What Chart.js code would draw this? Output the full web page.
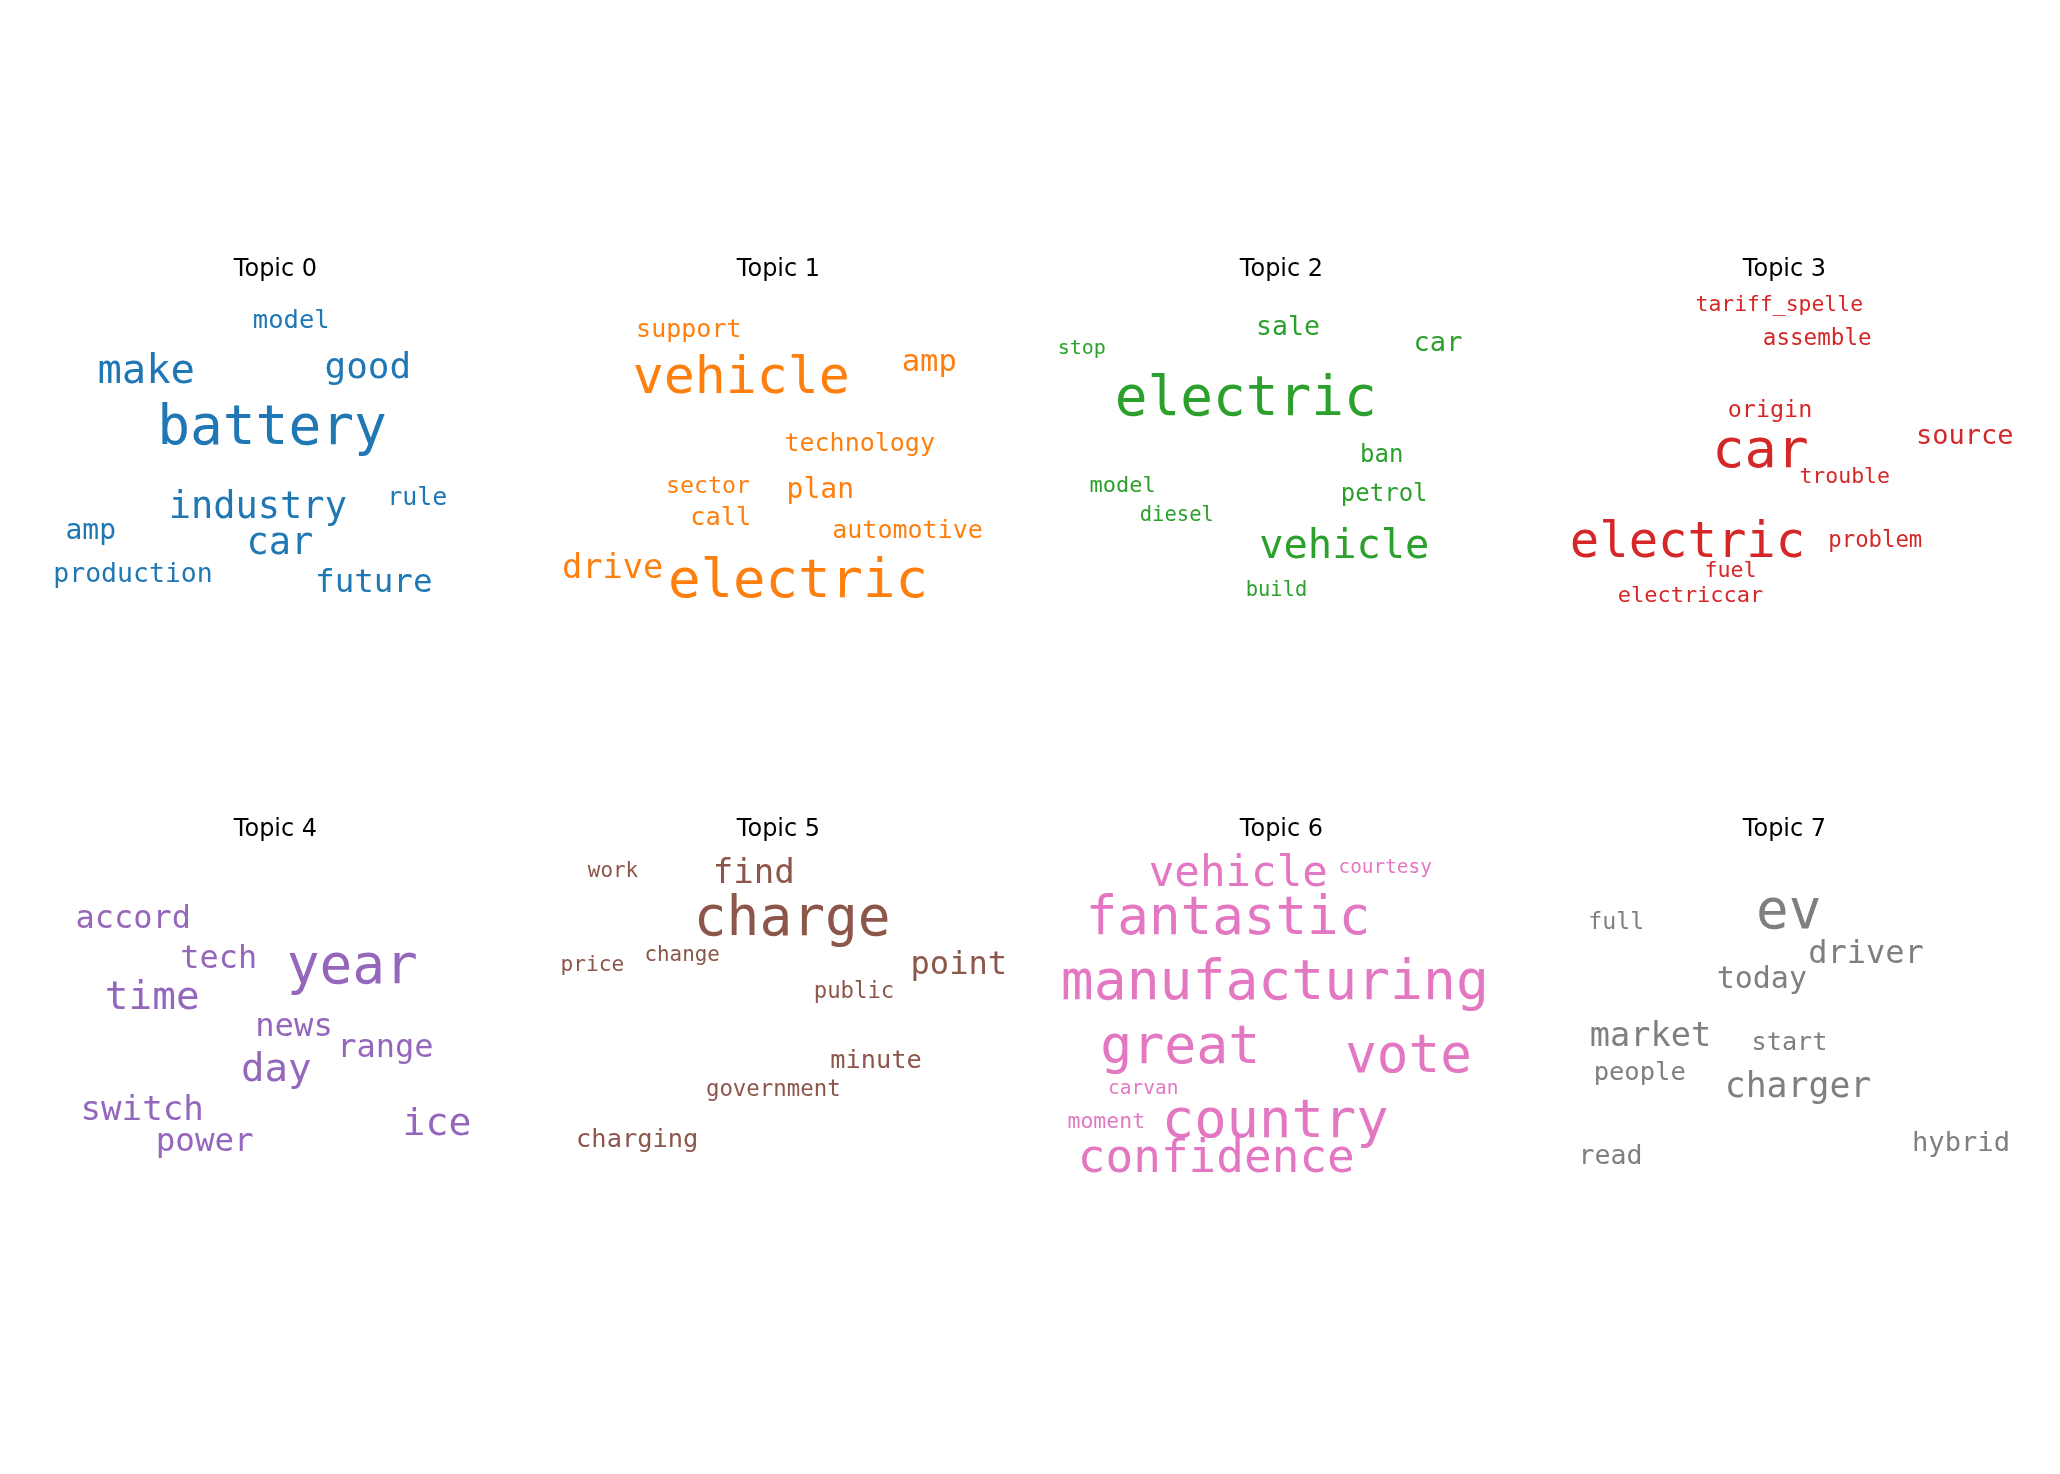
<!DOCTYPE html>
<html>
<head>
<meta charset="utf-8">
<script src="https://cdn.jsdelivr.net/npm/chart.js@4.4.1/dist/chart.umd.min.js"></script>
<style>
    html, body { margin: 0; padding: 0; background: #ffffff; }
    #figure { position: relative; width: 2060px; height: 1474px; background: #ffffff; overflow: hidden; }
    #figure canvas { position: absolute; }
</style>
</head>
<body>
<div id="figure"></div>
<script>
// topic word clouds - word, position inside the cloud, weight (font px)
const topicTitles = ['Topic 0', 'Topic 1', 'Topic 2', 'Topic 3', 'Topic 4', 'Topic 5', 'Topic 6', 'Topic 7'];
const topicColors = ['#1f77b4', '#ff7f0e', '#2ca02c', '#d62728', '#9467bd', '#8c564b', '#e377c2', '#7f7f7f'];

const topic0Words = ['model', 'make', 'good', 'battery', 'industry', 'rule', 'amp', 'car', 'production', 'future'];
const topic0X = [15.7, -129.3, 92.3, -3.5, -17.7, 141.8, -184.7, 4.3, -142.5, 98.3];
const topic0Y = [88.3, 142.7, 138.3, 204, 277.7, 265, 299, 314, 341.7, 351.7];
const topic0Weight = [25.5, 40.5, 36, 54.5, 37, 25, 28, 37, 26.5, 32.5];

const topic1Words = ['support', 'vehicle', 'amp', 'technology', 'sector', 'plan', 'call', 'automotive', 'drive', 'electric'];
const topic1X = [-89.7, -37.2, 150.7, 81.2, -70.5, 41.8, -57.8, 129, -165.8, 19.5];
const topic1Y = [97.3, 152.7, 130.7, 210.7, 253.3, 258.3, 285, 297.7, 337.7, 357.3];
const topic1Weight = [25, 51.5, 30.5, 25, 23.3, 28, 25.3, 25, 33.7, 54];

const topic2Words = ['sale', 'car', 'stop', 'electric', 'ban', 'model', 'petrol', 'diesel', 'vehicle', 'build'];
const topic2X = [6.5, 156.5, -199.7, -35.7, 100.2, -158.8, 102.7, -104.7, 62.8, -5];
const topic2Y = [95, 111, 114.3, 175, 221.7, 252.3, 260.7, 281, 318.3, 356];
const topic2Weight = [26.5, 27, 20, 54.4, 24, 22, 24, 20.5, 40.4, 20.4];

const topic3Words = ['tariff_spelle', 'assemble', 'origin', 'source', 'car', 'trouble', 'electric', 'problem', 'fuel', 'electriccar'];
const topic3X = [-5.2, 32.7, -14.5, 180.2, -24, 60.2, -97, 90.8, -54, -94];
const topic3Y = [70.7, 105, 177.3, 204.3, 226.7, 243.3, 316.7, 307.3, 336.7, 362.3];
const topic3Weight = [21.4, 22.6, 23.4, 27, 53.5, 21.5, 48.9, 22.3, 21.7, 22];

const topic4Words = ['accord', 'tech', 'year', 'time', 'news', 'range', 'day', 'switch', 'power', 'ice'];
const topic4X = [-142.2, -56.8, 76.8, -123.2, 18.5, 109.8, 0.7, -133.3, -70.8, 161.5];
const topic4Y = [128.3, 168.3, 182.7, 209, 235.7, 257.3, 280.7, 320, 350.7, 335];
const topic4Weight = [32, 31.9, 54.5, 39.4, 32.2, 32, 39.1, 34.2, 32.6, 38.1];

const topic5Words = ['work', 'find', 'charge', 'change', 'price', 'point', 'public', 'minute', 'government', 'charging'];
const topic5X = [-165.5, -24.7, 13.7, -96.3, -186.2, 180.3, 75.5, 97.5, -5.2, -141.3];
const topic5Y = [76.7, 83.3, 135, 160.7, 170.7, 174, 198.3, 267.7, 296, 346.7];
const topic5Weight = [20.9, 34.1, 54.5, 20.9, 21.2, 32.1, 22.3, 25.3, 22.4, 25.4];

const topic6Words = ['vehicle', 'courtesy', 'fantastic', 'manufacturing', 'great', 'vote', 'carvan', 'moment', 'country', 'confidence'];
const topic6X = [-43.2, 103.7, -53.5, -6.7, -101.3, 127, -138.2, -175.2, -6.3, -65.2];
const topic6Y = [86, 72.7, 134.3, 199.3, 263.3, 271.7, 294.3, 327.7, 336.7, 371.7];
const topic6Weight = [42.5, 19.4, 52.5, 54.7, 53.2, 52.6, 19.5, 21.5, 53.8, 46];

const topic7Words = ['ev', 'full', 'driver', 'today', 'market', 'start', 'people', 'charger', 'hybrid', 'read'];
const topic7X = [4.3, -168.2, 81.5, -22.7, -134, 5, -144.8, 13.5, 176.5, -174];
const topic7Y = [128.3, 129.3, 163.3, 188.3, 246, 250, 280, 296.7, 350.7, 364];
const topic7Weight = [54.3, 23.3, 32, 30, 33.6, 25.2, 25.5, 34.8, 27.2, 26.6];

const topics = [
    [topic0Words, topic0X, topic0Y, topic0Weight],
    [topic1Words, topic1X, topic1Y, topic1Weight],
    [topic2Words, topic2X, topic2Y, topic2Weight],
    [topic3Words, topic3X, topic3Y, topic3Weight],
    [topic4Words, topic4X, topic4Y, topic4Weight],
    [topic5Words, topic5X, topic5Y, topic5Weight],
    [topic6Words, topic6X, topic6Y, topic6Weight],
    [topic7Words, topic7X, topic7Y, topic7Weight],
];

// layout of the 2 x 4 grid
const PANEL_W = 503;
const PANEL_H = 420;
const colCenters = [275, 778, 1281, 1784];
const rowTops = [240, 800];
const TITLE_Y = 36;   // title baseline, in cloud units

// draws words + title at positions given by the scales
const wordCloudPlugin = {
    id: 'wordCloud',
    afterDatasetsDraw(chart, args, opts) {
        const ctx = chart.ctx;
        const meta = chart.getDatasetMeta(0);
        const ds = chart.data.datasets[0];
        ctx.save();
        ctx.textAlign = 'center';
        ctx.textBaseline = 'alphabetic';
        ctx.fillStyle = opts.color;
        meta.data.forEach((pt, i) => {
            const raw = ds.data[i];
            ctx.font = `${raw.w}px "DejaVu Sans Mono", monospace`;
            ctx.fillText(raw.word, pt.x, pt.y);
        });
        // subplot title
        ctx.fillStyle = '#000000';
        ctx.font = '24px "DejaVu Sans", sans-serif';
        ctx.fillText(opts.title, chart.scales.x.getPixelForValue(0), chart.scales.y.getPixelForValue(TITLE_Y));
        ctx.restore();
    }
};

const figure = document.getElementById('figure');

topics.forEach(([words, xs, ys, weights], idx) => {
    const col = idx % 4;
    const row = Math.floor(idx / 4);

    const canvas = document.createElement('canvas');
    canvas.width = PANEL_W;
    canvas.height = PANEL_H;
    canvas.style.width = PANEL_W + 'px';
    canvas.style.height = PANEL_H + 'px';
    canvas.style.left = (colCenters[col] - PANEL_W / 2) + 'px';
    canvas.style.top = rowTops[row] + 'px';
    figure.appendChild(canvas);

    new Chart(canvas, {
        type: 'scatter',
        data: {
            datasets: [{
                data: words.map((w, i) => ({ x: xs[i], y: ys[i], w: weights[i], word: w })),
                pointRadius: 0,
                pointHoverRadius: 0,
            }]
        },
        options: {
            responsive: false,
            animation: false,
            devicePixelRatio: 1,
            layout: { padding: 0 },
            events: [],
            plugins: {
                legend: { display: false },
                tooltip: { enabled: false },
                wordCloud: { color: topicColors[idx], title: topicTitles[idx] }
            },
            scales: {
                x: { type: 'linear', min: -PANEL_W / 2, max: PANEL_W / 2, display: false },
                y: { type: 'linear', min: 0, max: PANEL_H, reverse: true, display: false }
            }
        },
        plugins: [wordCloudPlugin]
    });
});
</script>
</body>
</html>
